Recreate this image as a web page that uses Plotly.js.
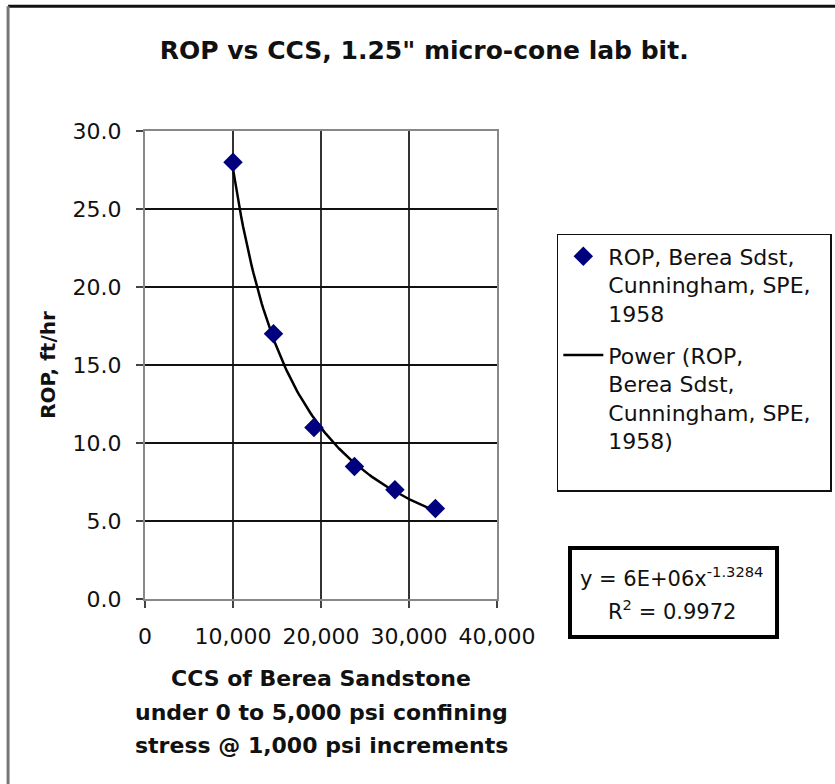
<!DOCTYPE html>
<html>
<head>
<meta charset="utf-8">
<script src="https://cdn.plot.ly/plotly-3.0.1.min.js"></script>
<style>
  html, body { margin: 0; padding: 0; background: #fff; }
  #chart { width: 835px; height: 784px; }
</style>
</head>
<body>
<div id="chart"></div>
<script>
// Rate of penetration vs confined compressive strength (Berea sandstone)
const ccs = [10000, 14600, 19200, 23800, 28400, 33000];
const rop = [28.0, 17.0, 11.0, 8.5, 7.0, 5.8];

const xTickVals = [0, 10000, 20000, 30000, 40000];
const xTickText = ['0', '10,000', '20,000', '30,000', '40,000'];
const yTickVals = [0, 5, 10, 15, 20, 25, 30];
const yTickText = ['0.0', '5.0', '10.0', '15.0', '20.0', '25.0', '30.0'];

const seriesName = 'ROP, Berea Sdst,<br>Cunningham, SPE,&nbsp;&nbsp;<br>1958';
const trendName = 'Power (ROP,<br>Berea Sdst,<br>Cunningham, SPE,&nbsp;&nbsp;<br>1958)<br>&nbsp;';
const xTitleLines = [
  'CCS of Berea Sandstone',
  'under 0 to 5,000 psi confining',
  'stress @ 1,000 psi increments'
];

// Power trendline y = C * x^b; exponent and R^2 as reported for the fit
const TREND_EXP = -1.3284;
const R_SQUARED = 0.9972;

// coefficient from a log-space least-squares fit with the exponent held fixed
const lnC = ccs.reduce((s, x, i) => s + Math.log(rop[i]) - TREND_EXP * Math.log(x), 0) / ccs.length;
const trendCoef = Math.exp(lnC);

const xMin = Math.min(...ccs), xMax = Math.max(...ccs);
const trendX = [], trendY = [];
const STEPS = 120;
for (let i = 0; i <= STEPS; i++) {
  const x = xMin + (xMax - xMin) * i / STEPS;
  trendX.push(x);
  trendY.push(trendCoef * Math.pow(x, TREND_EXP));
}

// Excel-style "6E+06"
function excelSci(v) {
  const [m, e] = v.toExponential(0).split('e');
  const sign = e[0] === '-' ? '-' : '+';
  const digits = e.replace(/[+-]/, '').padStart(2, '0');
  return m + 'E' + sign + digits;
}
const eqLine1 = 'y = ' + excelSci(trendCoef) + 'x<sup>' + TREND_EXP.toFixed(4) + '</sup>';
const eqLine2 = 'R<sup>2</sup> = ' + R_SQUARED.toFixed(4);

const FONT = 'DejaVu Sans, Arial, sans-serif';

const traces = [
  {
    x: trendX, y: trendY,
    type: 'scatter', mode: 'lines',
    name: trendName,
    line: { color: '#000000', width: 2.5 },
    legendgroup: 'trend', legendrank: 2,
    hoverinfo: 'skip'
  },
  {
    x: ccs, y: rop,
    type: 'scatter', mode: 'markers',
    name: seriesName,
    marker: { symbol: 'diamond', size: 15, color: '#00007f', line: { width: 0 } },
    legendgroup: 'data', legendrank: 1
  }
];

const annotations = xTitleLines.map((t, i) => ({
  text: '<b>' + t + '</b>',
  xref: 'paper', yref: 'paper',
  x: 0.5, y: [-0.1707, -0.2433, -0.3137][i],
  xanchor: 'center', yanchor: 'middle',
  showarrow: false,
  font: { family: FONT, size: 22, color: '#111' }
}));
annotations.push(
  { text: eqLine1, xref: 'paper', yref: 'paper', x: 1.497, y: 0.047,
    xanchor: 'center', yanchor: 'middle', showarrow: false,
    font: { family: FONT, size: 21, color: '#111' } },
  { text: eqLine2, xref: 'paper', yref: 'paper', x: 1.497, y: -0.0235,
    xanchor: 'center', yanchor: 'middle', showarrow: false,
    font: { family: FONT, size: 21, color: '#111' } }
);

const layout = {
  width: 835, height: 784,
  margin: { l: 145, r: 338, t: 131, b: 185, autoexpand: false },
  paper_bgcolor: '#ffffff', plot_bgcolor: '#ffffff',
  font: { family: FONT, color: '#111' },
  title: {
    text: '<b>ROP vs CCS, 1.25" micro-cone lab bit.</b>',
    xref: 'container', yref: 'container',
    x: 0.508, y: 0.936, xanchor: 'center', yanchor: 'middle',
    font: { family: FONT, size: 25, color: '#111' }
  },
  xaxis: {
    range: [0, 40000],
    tickvals: xTickVals, ticktext: xTickText,
    showgrid: true, gridcolor: '#333333', gridwidth: 1.5,
    zeroline: false,
    showline: true, linecolor: '#888888', linewidth: 2, mirror: true,
    ticks: 'outside', ticklen: 7, tickwidth: 1.5, tickcolor: '#444',
    ticklabelstandoff: 10,
    tickfont: { family: FONT, size: 22, color: '#111' },
    fixedrange: true
  },
  yaxis: {
    range: [0, 30],
    tickvals: yTickVals, ticktext: yTickText,
    showgrid: true, gridcolor: '#111111', gridwidth: 1.5,
    zeroline: false,
    showline: true, linecolor: '#888888', linewidth: 2, mirror: true,
    ticks: 'outside', ticklen: 7, tickwidth: 1.5, tickcolor: '#444',
    ticklabelstandoff: 10,
    tickfont: { family: FONT, size: 22, color: '#111' },
    title: { text: '<b>ROP, ft/hr</b>', standoff: 12,
             font: { family: FONT, size: 20, color: '#111' } },
    fixedrange: true
  },
  showlegend: true,
  legend: {
    x: 1.17, y: 0.78, xanchor: 'left', yanchor: 'top',
    xref: 'paper', yref: 'paper',
    bgcolor: '#ffffff', bordercolor: '#111', borderwidth: 1.5,
    font: { family: FONT, size: 22, color: '#111' },
    valign: 'top', tracegroupgap: 10,
    itemwidth: 40
  },
  shapes: [
    // outer chart frame (top and left edges)
    { type: 'line', xref: 'paper', yref: 'paper', x0: -0.389, x1: 2.0, y0: 1.2667, y1: 1.2667,
      line: { color: '#111', width: 3 } },
    { type: 'line', xref: 'paper', yref: 'paper', x0: -0.389, x1: -0.389, y0: -0.45, y1: 1.2667,
      line: { color: '#777', width: 3 } },
    // equation box
    { type: 'rect', xref: 'paper', yref: 'paper', x0: 1.2074, x1: 1.7955, y0: -0.0811, y1: 0.1088,
      line: { color: '#000', width: 4 }, fillcolor: '#ffffff', layer: 'below' }
  ],
  annotations: annotations
};

Plotly.newPlot('chart', traces, layout, { displayModeBar: false, staticPlot: true });
</script>
</body>
</html>
